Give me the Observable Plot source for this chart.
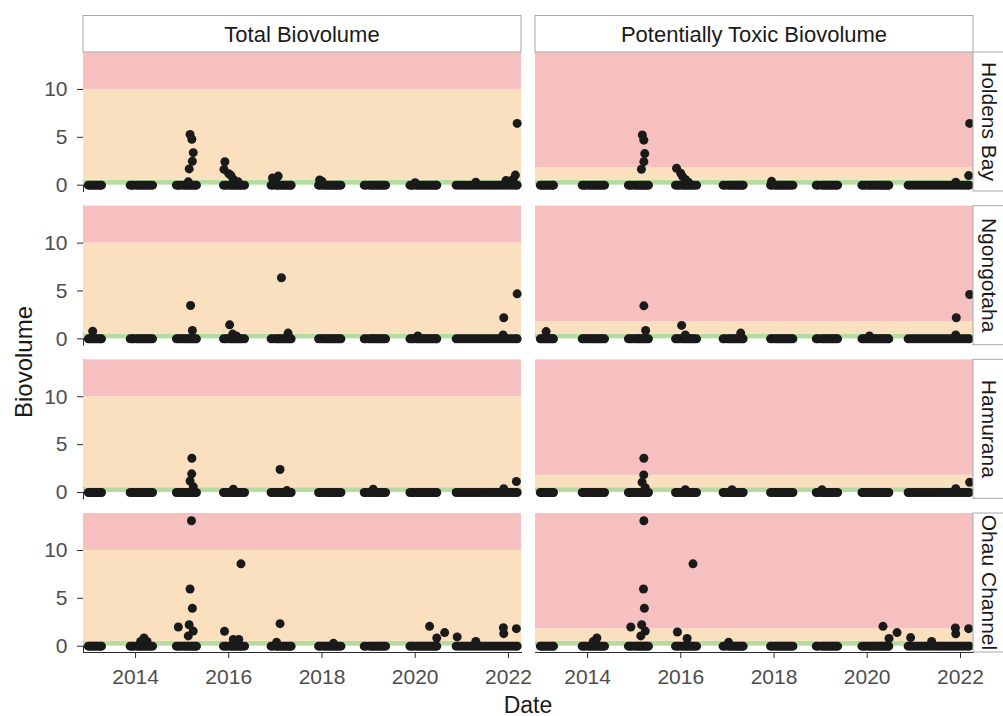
<!DOCTYPE html>
<html><head><meta charset="utf-8">
<script src="https://cdn.jsdelivr.net/npm/d3@7"></script>
<script src="https://cdn.jsdelivr.net/npm/@observablehq/plot@0.6"></script>
<style>
body{margin:0;background:#fff;}
#chart svg text{font-family:"Liberation Sans",Arial,Helvetica,sans-serif;fill:#4d4d4d;}
</style></head><body><div id="chart"></div>
<script>
// ---------- data ----------
const sites = ["Holdens Bay", "Ngongotaha", "Hamurana", "Ohau Channel"];
const measures = ["Total Biovolume", "Potentially Toxic Biovolume"];

// band limits (Biovolume): green / orange / red
const limitsTotal = [0, 0.5, 10];
const limitsToxic = [0, 0.5, 1.8];
const bandColors = ["#b4dca0", "#fbe0bf", "#f7c0c0"];

const yDomain = [-0.66, 13.86];
const yTicks = [0, 5, 10];
const xDomain = ["2012-11-19", "2022-04-13"];
const xTicks = ["2014-01-01", "2016-01-01", "2018-01-01", "2020-01-01", "2022-01-01"];

// sampling dates (values near zero at every site)
const sampleDates = [
  "2012-12-27","2013-01-08","2013-01-22","2013-02-05","2013-02-19","2013-03-05","2013-03-19","2013-04-02","2013-04-09",
  "2013-11-20","2013-12-04","2013-12-18","2014-01-08","2014-01-22","2014-02-05","2014-02-19","2014-03-05","2014-03-19","2014-04-02","2014-04-16","2014-04-30","2014-05-14",
  "2014-11-17","2014-12-01","2014-12-15","2015-01-06","2015-01-20","2015-02-03","2015-02-17","2015-03-03","2015-03-17","2015-03-31","2015-04-14","2015-04-23",
  "2015-11-21","2015-12-05","2015-12-19","2016-01-09","2016-01-23","2016-02-06","2016-02-20","2016-03-05","2016-03-19","2016-04-02","2016-04-16","2016-05-04",
  "2016-11-28","2016-12-12","2017-01-05","2017-01-19","2017-02-02","2017-02-16","2017-03-02","2017-03-16","2017-03-30","2017-04-13","2017-04-27","2017-05-04",
  "2017-12-05","2017-12-19","2018-01-09","2018-01-23","2018-02-06","2018-02-20","2018-03-06","2018-03-20","2018-04-03","2018-04-17","2018-05-01","2018-05-15","2018-05-29",
  "2018-11-28","2018-12-12","2019-01-08","2019-01-22","2019-02-05","2019-02-19","2019-03-05","2019-03-19","2019-04-02","2019-04-16","2019-04-30","2019-05-14",
  "2019-11-21","2019-12-05","2019-12-19","2020-01-09","2020-01-23","2020-02-06","2020-02-20","2020-03-05","2020-03-19","2020-04-02","2020-04-16","2020-04-30","2020-05-14","2020-05-28","2020-06-11","2020-06-18",
  "2020-11-17","2020-12-08","2020-12-29","2021-01-19","2021-02-09","2021-03-02","2021-03-23","2021-04-13","2021-05-04","2021-05-25","2021-06-15","2021-07-06","2021-07-27","2021-08-17","2021-09-07","2021-09-28","2021-10-19","2021-11-09","2021-11-30","2021-12-21","2022-01-11","2022-02-01","2022-02-22","2022-03-10"
];

// readings above the baseline: [date, biovolume]
const holdensTotal = [["2015-03-04",5.3],["2015-03-18",4.8],["2015-03-29",3.4],["2015-03-22",2.5],["2015-02-25",1.7],["2015-02-18",0.35],
  ["2015-12-02",2.45],["2015-11-25",1.65],["2016-01-01",1.2],["2016-01-19",1.0],["2016-02-06",0.6],["2016-03-15",0.35],
  ["2016-12-09",0.75],["2017-01-23",0.95],["2017-01-01",0.6],["2017-12-13",0.55],["2018-01-01",0.4],["2020-01-01",0.25],
  ["2021-04-20",0.3],["2021-12-13",0.5],["2022-02-06",0.6],["2022-02-24",1.05],["2022-03-10",6.45]];
const holdensToxic = [["2015-03-06",5.24],["2015-03-18",4.7],["2015-03-25",3.3],["2015-03-18",2.46],["2015-02-27",1.66],
  ["2015-11-29",1.77],["2016-01-01",1.25],["2016-01-15",0.9],["2016-02-06",0.6],["2016-03-01",0.3],
  ["2017-12-13",0.4],["2021-11-25",0.3],["2022-03-06",1.0],["2022-03-14",6.45]];
const ngongotahaTotal = [["2013-01-30",0.8],["2015-03-08",3.48],["2015-03-22",0.87],["2016-01-08",1.46],["2016-02-01",0.5],["2016-03-01",0.3],
  ["2017-02-17",6.38],["2017-04-10",0.6],["2020-01-22",0.3],["2021-11-25",2.2],["2021-11-20",0.4],["2022-03-10",4.7]];
const ngongotahaToxic = [["2013-02-10",0.76],["2015-03-18",3.45],["2015-04-01",0.87],["2016-01-08",1.4],["2016-02-06",0.4],
  ["2017-04-15",0.6],["2020-01-19",0.3],["2021-11-29",2.2],["2021-11-25",0.4],["2022-03-14",4.63]];
const hamuranaTotal = [["2015-03-18",3.58],["2015-03-17",1.95],["2015-03-04",1.2],["2015-03-29",0.6],["2016-02-06",0.35],
  ["2017-02-06",2.4],["2017-04-01",0.2],["2019-02-06",0.35],["2021-11-25",0.4],["2022-03-04",1.15]];
const hamuranaToxic = [["2015-03-18",3.58],["2015-03-17",1.84],["2015-03-04",1.07],["2015-03-29",0.5],["2016-02-06",0.3],
  ["2017-02-06",0.3],["2019-01-12",0.3],["2021-11-25",0.4],["2022-03-14",1.07]];
const ohauTotal = [["2015-03-15",13.1],["2016-04-06",8.6],["2015-03-04",5.97],["2015-03-22",3.96],["2014-12-02",2.0],["2015-02-25",2.24],
  ["2015-03-29",1.58],["2015-02-18",1.07],["2014-03-08",0.86],["2014-02-10",0.5],["2014-04-01",0.5],["2015-11-29",1.55],
  ["2016-02-06",0.7],["2016-03-20",0.7],["2017-02-06",2.35],["2017-01-10",0.4],["2018-04-01",0.3],["2020-04-23",2.07],
  ["2020-08-19",1.42],["2020-06-18",0.86],["2020-11-25",0.97],["2021-04-20",0.5],["2021-11-22",1.93],["2021-11-25",1.31],["2022-03-04",1.83]];
const ohauToxic = [["2015-03-18",13.1],["2016-04-06",8.6],["2015-03-15",5.97],["2015-03-22",3.96],["2014-12-06",2.0],["2015-03-01",2.24],
  ["2015-03-29",1.58],["2015-02-22",1.07],["2014-03-15",0.86],["2014-02-15",0.5],["2015-12-06",1.48],["2016-02-20",0.8],
  ["2017-01-10",0.4],["2020-05-04",2.07],["2020-08-22",1.42],["2020-06-20",0.8],["2020-12-06",0.9],["2021-05-20",0.5],
  ["2021-11-22",1.9],["2021-11-25",1.3],["2022-03-06",1.83]];

// ---------- assemble ----------
const readings = {
  "Holdens Bay": [holdensTotal, holdensToxic],
  "Ngongotaha": [ngongotahaTotal, ngongotahaToxic],
  "Hamurana": [hamuranaTotal, hamuranaToxic],
  "Ohau Channel": [ohauTotal, ohauToxic]
};
const parse = d3.utcParse("%Y-%m-%d");
const all = [];
for (const site of sites) {
  measures.forEach((measure, mi) => {
    const lim = mi === 0 ? limitsTotal : limitsToxic;
    const edges = [...lim, yDomain[1]];
    for (let b = 0; b < 3; b++) all.push({kind: "band", band: b, site, measure, lo: edges[b], hi: edges[b + 1]});
    for (const d of sampleDates) all.push({kind: "pt", site, measure, date: parse(d), value: 0});
    for (const [d, v] of readings[site][mi]) all.push({kind: "pt", site, measure, date: parse(d), value: v});
  });
}

const W = 1003, H = 716, mL = 83, mR = 30, mT = 52, mB = 64;
const bandMark = (b) => Plot.rect(all, {filter: d => d.kind === "band" && d.band === b, y1: "lo", y2: "hi", fill: bandColors[b]});

const plot = Plot.plot({
  width: W, height: H,
  marginLeft: mL, marginRight: mR, marginTop: mT, marginBottom: mB,
  style: {fontFamily: "'Liberation Sans', Arial, sans-serif", fontSize: "21px", color: "#2b2b2b", background: "#fff", overflow: "visible"},
  facet: {data: all, x: "measure", y: "site"},
  fx: {domain: measures, paddingInner: 0.031, paddingOuter: 0, round: false, axis: null, label: null},
  fy: {domain: sites, paddingInner: 0.0955, paddingOuter: 0, round: false, axis: null, label: null},
  x: {type: "utc", domain: xDomain.map(parse), ticks: xTicks.map(parse), tickFormat: "%Y", tickSize: 6, tickPadding: 11, label: null, line: true},
  y: {domain: yDomain, ticks: yTicks, tickSize: 6, tickPadding: 10, label: null, line: true},
  marks: [
    bandMark(0), bandMark(1), bandMark(2),
    Plot.dot(all, {filter: d => d.kind === "pt", x: "date", y: "value", r: 4.5, fill: "#1a1a1a"})
  ]
});
document.getElementById("chart").appendChild(plot);

// ---------- strips & titles ----------
const svg = d3.select(plot.tagName.toLowerCase() === "svg" ? plot : plot.querySelector("svg"));
const fx = plot.scale("fx"), fy = plot.scale("fy");
const g = svg.append("g");
for (const m of measures) {
  const x0 = fx.apply(m), bw = fx.bandwidth;
  g.append("rect").attr("x", x0).attr("y", 15.5).attr("width", bw).attr("height", mT - 15.5)
    .attr("fill", "#fff").attr("stroke", "#a8a8a8").attr("stroke-width", 1);
  g.append("text").attr("x", x0 + bw / 2).attr("y", 41.5).attr("text-anchor", "middle")
    .attr("style", "font-size:22px;fill:#1a1a1a").text(m);
}
for (const s of sites) {
  const y0 = fy.apply(s), bh = fy.bandwidth;
  const xr = W - mR;
  g.append("rect").attr("x", xr).attr("y", y0).attr("width", 36).attr("height", bh)
    .attr("fill", "#fff").attr("stroke", "#a8a8a8").attr("stroke-width", 1);
  g.append("text").attr("transform", `translate(${xr + 8.5},${y0 + bh / 2}) rotate(90)`)
    .attr("text-anchor", "middle").attr("style", "font-size:21px;fill:#1a1a1a").text(s);
}
g.append("text").attr("transform", `translate(31.5,362) rotate(-90)`).attr("text-anchor", "middle")
  .attr("style", "font-size:24px;fill:#1a1a1a").text("Biovolume");
g.append("text").attr("x", (mL + W - mR) / 2).attr("y", 713).attr("text-anchor", "middle")
  .attr("style", "font-size:23px;fill:#1a1a1a").text("Date");
</script></body></html>
